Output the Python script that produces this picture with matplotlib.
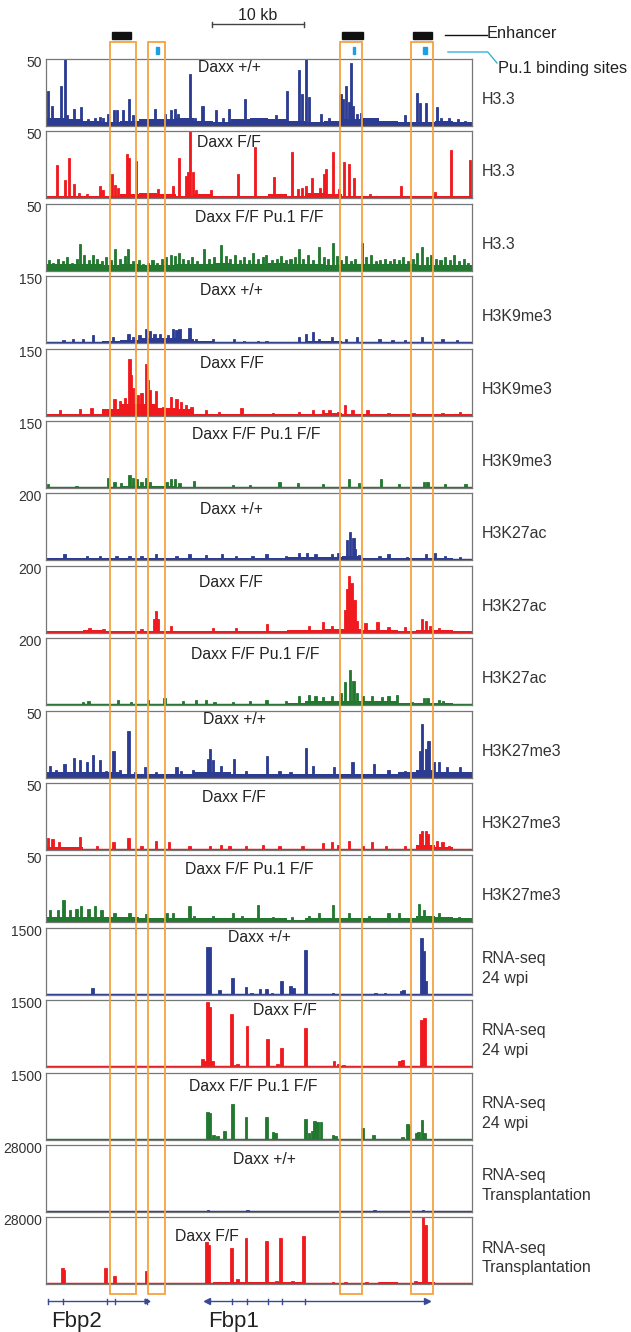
import numpy as np
import matplotlib.pyplot as plt
from matplotlib.patches import Rectangle

plt.rcParams['font.family'] = ['Liberation Sans', 'DejaVu Sans']

# region is ~46 kb wide, bins of 2 kb for the background level of each track
bin_starts = list(range(0, 46, 2))

# ---- H3.3 ----
h33_wt_peaks = [(0.25, 26), (0.6, 15), (1.1, 6), (1.6, 30), (2.0, 50), (2.3, 8), (3.05, 13), (3.8, 14), (4.5, 5),
                (5.3, 6), (5.8, 7), (6.2, 6), (6.7, 9), (7.3, 12), (7.7, 12), (8.35, 12), (9.0, 20), (9.4, 8),
                (10.1, 5), (11.8, 13), (12.9, 9), (13.5, 12), (13.9, 13), (14.3, 9), (15.6, 39), (16.1, 6),
                (16.9, 15), (18.4, 12), (19.1, 6), (19.8, 13), (20.4, 5), (21.5, 20), (22.7, 5), (23.4, 6),
                (24.8, 8), (26.0, 26), (27.3, 42), (27.6, 24), (28.1, 50), (28.4, 22), (29.7, 9), (30.6, 6),
                (31.8, 24), (32.1, 20), (32.4, 30), (32.7, 18), (32.9, 47), (33.2, 15), (33.6, 9), (34.0, 10),
                (35.8, 4), (37.0, 4), (38.8, 8), (40.1, 25), (40.4, 17), (41.0, 17), (42.2, 14), (42.7, 6),
                (43.5, 6), (44.5, 5), (45.2, 4)]
h33_wt_base = [6, 5, 4, 3, 4, 5, 5, 6, 4, 3, 5, 6, 5, 4, 3, 4, 5, 6, 4, 3, 3, 4, 3]

h33_ff_peaks = [(1.2, 25), (2.0, 14), (2.5, 30), (3.05, 11), (3.6, 4), (4.4, 3), (5.8, 9), (6.1, 6), (7.1, 18),
                (7.4, 10), (7.8, 8), (8.75, 33), (9.0, 30), (9.7, 28), (12.1, 7), (13.7, 9), (14.4, 30),
                (15.1, 17), (15.3, 20), (15.6, 50), (15.9, 20), (16.2, 6), (17.8, 6), (20.7, 18), (22.6, 38),
                (24.6, 16), (26.6, 35), (27.2, 7), (27.6, 8), (28.1, 9), (28.7, 15), (29.6, 8), (30.0, 18),
                (30.2, 22), (31.0, 35), (31.6, 7), (32.2, 27), (32.7, 26), (33.3, 15), (35.0, 3), (38.3, 9),
                (42.0, 5), (43.7, 36), (45.8, 29)]
h33_ff_base = [2, 2, 2, 2, 3, 4, 3, 2, 3, 2, 2, 2, 3, 2, 4, 3, 2, 2, 2, 2, 2, 2, 2]

h33_dko_peaks = [(0.3, 8), (0.8, 6), (1.3, 9), (1.8, 7), (2.3, 10), (2.8, 6), (3.3, 9), (3.7, 20), (4.1, 12),
                 (4.6, 8), (5.1, 12), (5.5, 9), (6.0, 7), (6.5, 10), (7.0, 8), (7.5, 16), (8.0, 9), (8.5, 11),
                 (8.9, 16), (9.4, 7), (10.0, 8), (10.5, 5), (11.0, 6), (11.5, 8), (12.0, 6), (12.5, 9),
                 (13.0, 10), (13.5, 12), (13.9, 11), (14.4, 13), (14.8, 9), (15.3, 8), (15.8, 10), (16.3, 7),
                 (17.1, 16), (17.6, 9), (18.1, 10), (18.9, 19), (19.4, 11), (19.9, 9), (20.4, 12), (20.9, 8),
                 (21.4, 10), (21.9, 8), (22.4, 13), (22.9, 9), (23.4, 10), (23.8, 12), (24.4, 8), (24.9, 9),
                 (25.4, 11), (25.9, 8), (26.4, 9), (26.9, 10), (27.3, 16), (27.8, 9), (28.3, 12), (28.8, 8),
                 (29.5, 18), (30.0, 10), (30.5, 9), (31.0, 21), (31.4, 11), (31.9, 8), (32.4, 11), (32.9, 7),
                 (33.4, 9), (34.1, 21), (34.6, 10), (35.1, 12), (35.6, 7), (36.1, 8), (36.6, 9), (37.1, 7),
                 (37.6, 9), (38.1, 8), (38.6, 10), (39.1, 7), (39.6, 9), (40.1, 13), (40.6, 18), (41.1, 10),
                 (41.6, 12), (42.1, 9), (42.6, 8), (43.1, 10), (43.6, 8), (44.1, 12), (44.6, 7), (45.1, 9),
                 (45.6, 6)]
h33_dko_base = [5, 5, 5, 4, 5, 4, 4, 5, 5, 6, 5, 5, 6, 5, 5, 4, 5, 5, 5, 5, 4, 4, 4]

# ---- H3K9me3 ----
k9_wt_peaks = [(1.9, 8), (2.9, 10), (4.0, 10), (5.1, 18), (7.2, 14), (8.9, 21), (9.4, 15), (10.1, 18),
               (10.8, 31), (11.2, 28), (11.7, 21), (12.3, 20), (13.2, 18), (13.7, 31), (14.1, 29), (14.4, 31),
               (15.5, 33), (16.2, 10), (18.0, 10), (20.3, 10), (21.4, 6), (22.9, 6), (23.8, 6), (27.3, 14),
               (28.1, 21), (28.8, 25), (29.5, 10), (30.9, 14), (32.4, 10), (33.6, 14), (36.0, 10), (37.4, 8),
               (38.8, 8), (40.6, 14), (42.8, 10), (44.4, 8)]
k9_wt_base = [3, 3, 3, 4, 7, 12, 12, 10, 4, 3, 3, 3, 3, 3, 5, 4, 3, 3, 3, 3, 3, 3, 3]

k9_ff_peaks = [(1.5, 12), (3.7, 15), (4.9, 18), (7.4, 38), (8.0, 33), (8.5, 40), (9.0, 127), (9.2, 90),
               (9.4, 62), (9.9, 46), (10.3, 50), (10.8, 115), (11.0, 80), (11.2, 58), (11.9, 54), (12.6, 19),
               (13.5, 42), (14.1, 38), (14.6, 31), (15.1, 23), (15.7, 19), (17.3, 12), (18.7, 8), (21.1, 18),
               (24.5, 6), (27.3, 8), (28.8, 12), (29.9, 13), (30.6, 12), (31.6, 8), (32.3, 23), (33.1, 12),
               (34.7, 12), (37.0, 6), (39.7, 6), (42.8, 6), (44.7, 8)]
k9_ff_base = [3, 3, 4, 14, 25, 25, 18, 14, 4, 3, 3, 3, 3, 3, 4, 5, 4, 3, 3, 3, 3, 3, 3]

k9_dko_peaks = [(0.25, 8), (3.3, 4), (5.1, 3), (6.7, 23), (7.4, 13), (8.1, 12), (9.0, 29), (9.4, 23), (9.8, 21),
                (10.3, 14), (10.8, 23), (11.2, 13), (13.0, 13), (13.5, 20), (13.9, 21), (14.4, 12), (16.0, 16),
                (20.2, 6), (22.0, 6), (25.2, 13), (27.2, 12), (29.9, 8), (32.7, 20), (33.8, 12), (36.2, 21),
                (38.1, 10), (40.8, 13), (41.2, 13), (43.1, 8), (45.3, 8)]
k9_dko_base = [2, 2, 2, 3, 5, 5, 4, 3, 2, 2, 2, 2, 2, 2, 2, 2, 2, 2, 2, 2, 3, 2, 2]

# ---- H3K27ac ----
k27ac_wt_peaks = [(2.0, 18), (4.4, 13), (5.8, 13), (7.6, 13), (9.0, 13), (10.3, 13), (11.9, 18), (14.1, 13),
                  (15.5, 18), (17.3, 15), (19.0, 18), (20.5, 13), (22.3, 13), (23.8, 18), (25.9, 13), (27.3, 23),
                  (28.2, 23), (29.1, 18), (30.9, 20), (31.6, 23), (32.5, 60), (32.8, 85), (33.2, 68), (33.4, 35),
                  (33.8, 15), (36.0, 13), (37.0, 18), (39.0, 10), (41.0, 20), (42.0, 23), (43.1, 13), (44.7, 10)]
k27ac_wt_base = [6, 6, 6, 6, 6, 6, 6, 6, 7, 6, 7, 7, 7, 9, 10, 10, 13, 8, 7, 6, 7, 6, 5]

k27ac_ff_peaks = [(4.7, 13), (6.2, 12), (10.3, 10), (11.7, 40), (11.9, 65), (12.1, 40), (13.5, 20), (18.0, 15),
                  (20.5, 15), (23.9, 26), (28.4, 20), (29.9, 31), (30.9, 20), (32.3, 67), (32.5, 130),
                  (32.7, 170), (33.0, 150), (33.3, 97), (33.6, 36), (34.5, 28), (35.8, 31), (37.0, 18),
                  (38.8, 18), (40.6, 41), (41.0, 36), (41.5, 20), (42.4, 15)]
k27ac_ff_base = [6, 6, 7, 6, 6, 6, 6, 6, 6, 6, 6, 6, 6, 7, 9, 10, 12, 8, 7, 6, 9, 7, 6]

k27ac_dko_peaks = [(4.0, 10), (4.6, 14), (7.8, 16), (9.2, 10), (11.0, 16), (12.8, 21), (14.8, 14), (16.2, 16),
                   (17.3, 16), (18.2, 10), (20.2, 10), (22.0, 14), (23.8, 16), (25.9, 14), (27.3, 26), (28.4, 31),
                   (29.1, 26), (29.9, 24), (30.9, 28), (31.8, 36), (32.3, 68), (32.8, 104), (33.2, 73), (33.6, 36),
                   (34.2, 26), (35.2, 28), (36.3, 24), (37.0, 28), (37.9, 31), (39.5, 10), (40.8, 21), (41.2, 21),
                   (42.4, 16), (42.9, 14), (44.6, 5)]
k27ac_dko_base = [5, 5, 5, 5, 5, 5, 5, 5, 5, 5, 5, 5, 5, 7, 12, 13, 14, 12, 12, 7, 7, 6, 5]

# ---- H3K27me3 ----
k27me3_wt_peaks = [(0.4, 9), (1.1, 6), (2.0, 10), (3.05, 15), (3.7, 13), (4.4, 12), (5.1, 17), (5.8, 13),
                   (6.5, 5), (7.3, 20), (8.0, 6), (8.9, 35), (9.6, 4), (10.7, 8), (11.9, 4), (14.1, 8), (14.6, 5),
                   (15.9, 6), (17.5, 14), (17.7, 21), (18.0, 13), (18.9, 9), (20.3, 14), (21.6, 5), (23.9, 16),
                   (25.2, 5), (26.4, 4), (28.1, 22), (28.8, 9), (31.1, 8), (33.1, 12), (35.4, 10), (37.0, 6),
                   (38.8, 5), (40.4, 20), (40.6, 40), (41.0, 21), (41.3, 27), (41.9, 12), (42.4, 12), (43.3, 8),
                   (44.7, 8)]
k27me3_wt_base = [4, 4, 4, 4, 3, 3, 3, 3, 4, 4, 3, 3, 3, 3, 3, 3, 3, 3, 3, 4, 6, 4, 4]

k27me3_ff_peaks = [(0.25, 9), (0.7, 8), (1.4, 6), (3.7, 10), (5.5, 3), (7.3, 6), (8.9, 9), (10.3, 3), (11.9, 7),
                   (13.3, 6), (15.5, 3), (17.7, 3), (18.9, 4), (19.8, 3), (21.6, 3), (23.4, 4), (25.2, 3),
                   (27.7, 3), (29.9, 5), (30.9, 6), (31.5, 4), (32.7, 7), (34.2, 3), (35.2, 6), (36.7, 3),
                   (38.8, 3), (40.4, 12), (40.6, 14), (41.0, 14), (41.2, 12), (42.2, 7), (42.8, 6), (43.5, 3)]
k27me3_ff_base = [2, 2, 1, 1, 1, 1, 1, 1, 1, 1, 1, 1, 1, 1, 1, 1, 1, 1, 1, 1, 4, 2, 1]

k27me3_dko_peaks = [(0.4, 9), (1.3, 9), (1.9, 17), (2.6, 9), (3.3, 10), (3.8, 12), (4.6, 10), (5.3, 12),
                    (6.0, 9), (7.4, 7), (9.0, 7), (10.8, 6), (13.0, 7), (13.7, 7), (15.5, 12), (16.0, 5),
                    (18.0, 5), (20.2, 7), (21.2, 5), (22.9, 13), (24.5, 4), (26.6, 4), (28.4, 5), (29.5, 7),
                    (31.0, 13), (32.7, 7), (34.9, 5), (37.0, 7), (38.1, 7), (40.3, 14), (40.8, 9), (42.4, 7),
                    (44.6, 4)]
k27me3_dko_base = [4, 4, 4, 4, 4, 3, 3, 3, 3, 3, 3, 3, 3, 2, 3, 3, 3, 3, 3, 3, 5, 4, 3]

# ---- RNA-seq 24 wpi ----
rna_wt_peaks = [(5.0, 150), (17.45, 1080), (17.7, 1060), (18.7, 100), (20.1, 370), (21.6, 170), (22.2, 50),
                (23.1, 140), (23.8, 130), (24.4, 40), (25.4, 300), (26.4, 200), (26.7, 160), (28.0, 1010),
                (31.0, 40), (35.6, 40), (36.6, 50), (38.4, 80), (38.6, 100), (40.55, 1280), (40.75, 990),
                (40.95, 300)]
rna_wt_base = [5, 5, 5, 5, 5, 5, 5, 5, 10, 15, 15, 15, 15, 10, 8, 8, 8, 10, 10, 8, 10, 5, 5]

rna_ff_peaks = [(16.9, 190), (17.2, 150), (17.45, 1450), (17.7, 1350), (18.0, 150), (20.0, 1200), (20.4, 60),
                (20.7, 70), (21.7, 920), (23.9, 640), (25.0, 70), (25.4, 440), (28.0, 885), (31.1, 150),
                (31.6, 70), (32.1, 60), (36.0, 30), (38.2, 130), (38.5, 170), (40.55, 1050), (40.9, 1100)]
rna_ff_base = [5, 5, 5, 5, 5, 5, 5, 5, 10, 15, 15, 15, 15, 10, 8, 8, 8, 10, 10, 8, 10, 5, 5]

rna_dko_peaks = [(17.45, 620), (17.7, 600), (18.1, 100), (18.5, 90), (19.3, 190), (20.1, 790), (21.6, 500),
                 (23.8, 510), (24.5, 170), (24.8, 150), (28.0, 470), (28.4, 150), (28.8, 200), (29.0, 410),
                 (29.3, 390), (29.7, 400), (31.0, 100), (31.3, 90), (34.2, 270), (35.4, 110), (38.5, 50),
                 (39.0, 340), (39.2, 300), (40.0, 140), (40.2, 170), (40.6, 450), (40.9, 150)]
rna_dko_base = [5, 5, 5, 5, 5, 5, 5, 5, 10, 15, 15, 15, 15, 10, 8, 8, 8, 10, 10, 8, 10, 5, 5]

# ---- RNA-seq transplantation ----
tx_wt_peaks = [(17.5, 800), (20.0, 600), (20.6, 500), (21.8, 700), (23.3, 500), (25.3, 600), (27.8, 600),
               (35.5, 700), (40.7, 1000)]
tx_wt_base = [150] * 23

tx_ff_peaks = [(1.75, 6700), (1.95, 6200), (6.4, 6700), (7.4, 3500), (10.8, 5500), (17.35, 17600),
               (17.55, 16500), (20.0, 15200), (20.7, 2400), (21.6, 19300), (23.8, 18000), (24.9, 1500),
               (25.3, 19600), (26.6, 1500), (27.8, 20400), (31.0, 800), (32.3, 900), (34.6, 800), (36.0, 900),
               (37.5, 700), (39.9, 1500), (40.7, 28000), (40.95, 25000)]
tx_ff_base = [500, 500, 500, 500, 500, 500, 500, 500, 700, 900, 900, 900, 800, 800, 700, 600, 700, 700, 800,
              700, 800, 500, 500]

# annotations (kb)
orange_boxes = [(6.96, 9.69), (11.05, 12.81), (31.75, 34.09), (39.43, 41.76)]
enhancers = [(7.1, 9.15), (32.0, 34.2), (39.6, 41.7)]
pu1_sites = [(11.85, 12.15), (33.1, 33.4), (40.75, 41.15)]
fbp2_exons = [0.2, 1.8, 6.6, 7.45, 10.9]
fbp1_exons = [17.4, 20.1, 21.7, 24.0, 25.5, 28.0, 41.1]

BLUE, RED, GREEN = '#2b3c92', '#f01a1e', '#22782f'
WT, FF, DKO = 'Daxx +/+', 'Daxx F/F', 'Daxx F/F Pu.1 F/F'

tracks = [
    (h33_wt_peaks, h33_wt_base, 50, '50', BLUE, WT, 'H3.3', 0.22),
    (h33_ff_peaks, h33_ff_base, 50, '50', RED, FF, 'H3.3', 0.22),
    (h33_dko_peaks, h33_dko_base, 50, '50', GREEN, DKO, 'H3.3', 0.22),
    (k9_wt_peaks, k9_wt_base, 150, '150', BLUE, WT, 'H3K9me3', 0.25),
    (k9_ff_peaks, k9_ff_base, 150, '150', RED, FF, 'H3K9me3', 0.25),
    (k9_dko_peaks, k9_dko_base, 150, '150', GREEN, DKO, 'H3K9me3', 0.25),
    (k27ac_wt_peaks, k27ac_wt_base, 200, '200', BLUE, WT, 'H3K27ac', 0.25),
    (k27ac_ff_peaks, k27ac_ff_base, 200, '200', RED, FF, 'H3K27ac', 0.25),
    (k27ac_dko_peaks, k27ac_dko_base, 200, '200', GREEN, DKO, 'H3K27ac', 0.25),
    (k27me3_wt_peaks, k27me3_wt_base, 50, '50', BLUE, WT, 'H3K27me3', 0.25),
    (k27me3_ff_peaks, k27me3_ff_base, 50, '50', RED, FF, 'H3K27me3', 0.25),
    (k27me3_dko_peaks, k27me3_dko_base, 50, '50', GREEN, DKO, 'H3K27me3', 0.25),
    (rna_wt_peaks, rna_wt_base, 1500, '1500', BLUE, WT, 'RNA-seq\n24 wpi', 0.3),
    (rna_ff_peaks, rna_ff_base, 1500, '1500', RED, FF, 'RNA-seq\n24 wpi', 0.3),
    (rna_dko_peaks, rna_dko_base, 1500, '1500', GREEN, DKO, 'RNA-seq\n24 wpi', 0.3),
    (tx_wt_peaks, tx_wt_base, 28000, '28000', BLUE, WT, 'RNA-seq\nTransplantation', 0.3),
    (tx_ff_peaks, tx_ff_base, 28000, '28000', RED, FF, 'RNA-seq\nTransplantation', 0.3),
]
# where the condition name sits in each panel: (kb centre, px below panel top)
cond_pos = [(19.8, 9), (19.8, 11.5), (23.0, 14), (20.0, 14.5), (20.1, 15), (22.7, 14), (20.0, 16), (20.0, 17),
            (22.6, 16), (20.3, 8.5), (20.3, 14), (22.0, 14.5), (23.0, 10), (25.8, 10.5), (22.4, 13.5),
            (23.6, 14), (17.4, 19)]

W, H = 631, 1332
X0, X1 = 46, 472
PANEL_TOP, STEP, PH = 59, 72.4, 67
KB = 46

fig = plt.figure(figsize=(W / 100, H / 100), dpi=100)


def px_axes(left, top, width, height):
    return fig.add_axes([left / W, 1 - (top + height) / H, width / W, height / H])


for i, (peaks, base, ymax, ylab, col, cond, mark, pw) in enumerate(tracks):
    top = PANEL_TOP + i * STEP
    ax = px_axes(X0, top, X1 - X0, PH)
    ax.bar(bin_starts, base, width=2, align='edge', color=col, linewidth=0)
    px_, ph_ = zip(*peaks)
    ax.bar(px_, ph_, width=pw, color=col, edgecolor=col, linewidth=0.6)
    ax.axhline(0, color=col, lw=2.5)
    ax.set_xlim(0, KB)
    ax.set_ylim(0, ymax)
    ax.set_xticks([])
    ax.set_yticks([])
    for s in ax.spines.values():
        s.set_color('#777777')
        s.set_linewidth(0.9)
    cx, dy = cond_pos[i]
    ax.text(cx, 1 - dy / PH, cond, transform=ax.get_xaxis_transform(), ha='center', va='center',
            fontsize=11.3, color='#222222')
    fig.text(42 / W, 1 - (top + 4) / H, ylab, ha='right', va='center', fontsize=10, color='#333333')
    fig.text(482 / W, 1 - (top + PH / 2 + 7) / H, mark, ha='left', va='center', fontsize=11.5,
             color='#333333', linespacing=1.4)

# overlay in kb (x) and figure pixels (y)
ov = px_axes(X0, 0, X1 - X0, H)
ov.set_xlim(0, KB)
ov.set_ylim(H, 0)
ov.axis('off')

for a, b in orange_boxes:
    ov.add_patch(Rectangle((a, 42), b - a, 1294 - 42, fill=False, edgecolor='#f4a340', lw=1.3))
for a, b in enhancers:
    ov.add_patch(Rectangle((a, 31.5), b - a, 7.5, color='#111111'))
for a, b in pu1_sites:
    ov.add_patch(Rectangle((a, 47), b - a, 7, color='#1ba1e2'))

# scale bar
ov.plot([17.9, 27.9], [24, 24], color='#444444', lw=1)
ov.plot([17.9, 17.9], [21.5, 26.5], color='#444444', lw=1)
ov.plot([27.9, 27.9], [21.5, 26.5], color='#444444', lw=1)
ov.text(22.9, 15, '10 kb', ha='center', va='center', fontsize=11.5, color='#222222')

# legend
ov.plot([43.1, 47.6], [35, 35], color='#111111', lw=1, clip_on=False)
ov.text(47.6, 34, 'Enhancer', ha='left', va='center', fontsize=11.8, color='#222222', clip_on=False)
ov.plot([43.4, 47.7, 48.7], [52, 52, 63], color='#3ab0dc', lw=1, clip_on=False)
ov.text(48.8, 68, 'Pu.1 binding sites', ha='left', va='center', fontsize=11.8, color='#222222', clip_on=False)

# genes
GENE = '#3a4896'
ov.plot([fbp2_exons[0], fbp2_exons[-1]], [1301, 1301], color=GENE, lw=1)
ov.plot([fbp1_exons[0], fbp1_exons[-1]], [1301, 1301], color=GENE, lw=1)
for e in fbp2_exons + fbp1_exons[1:-1]:
    ov.plot([e, e], [1298.5, 1303.5], color=GENE, lw=1)
ov.plot([fbp2_exons[-1]], [1301], marker='>', color=GENE, ms=3.5)
ov.plot([fbp1_exons[0]], [1301], marker='<', color=GENE, ms=4)
ov.plot([fbp1_exons[-1]], [1301], marker='>', color=GENE, ms=4)
ov.text(0.6, 1321, 'Fbp2', ha='left', va='center', fontsize=16, color='#222222')
ov.text(17.5, 1321, 'Fbp1', ha='left', va='center', fontsize=16, color='#222222')

fig.savefig('out.png', dpi=100)
